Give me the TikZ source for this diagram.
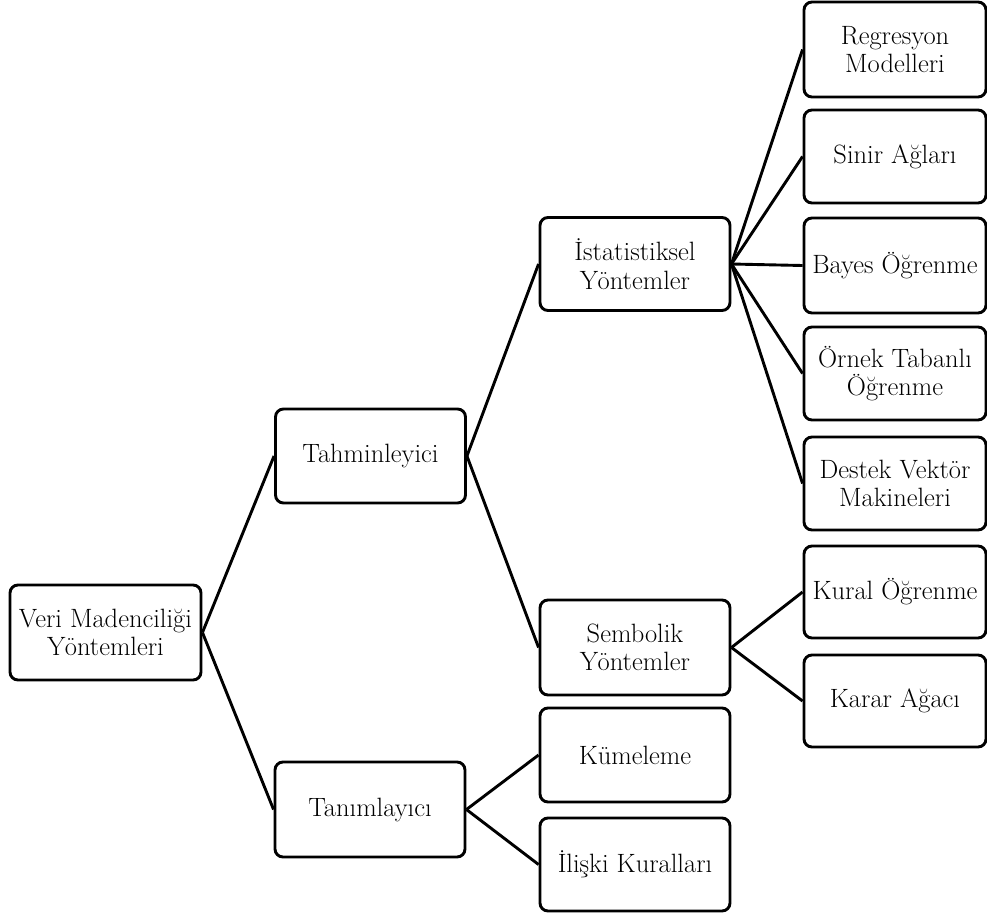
\documentclass[tikz,border=0pt]{standalone}
\usepackage{fontspec}
\begin{document}
\begin{tikzpicture}[x=1pt,y=-1pt,
  box/.style={draw=black,line width=2.9pt,rounded corners=8pt,align=center,
    inner sep=0pt,font=\fontsize{26.5}{28.5}\selectfont},
  mid/.style={box,minimum width=190pt,minimum height=93pt},
  leaf/.style={box,minimum width=182pt,minimum height=93pt},
  link/.style={draw=black,line width=2.9pt}]
\useasboundingbox (0,0) rectangle (987,916);
\begin{scope}
\clip (0,0) rectangle (987,916);
% root and first level
\node[box,minimum width=191pt,minimum height=95pt] (veri) at (105.5,632.5) {Veri Madenciliği\\Yöntemleri};
\node[mid,minimum height=94pt] (tahmin) at (370.5,456) {Tahminleyici};
\node[mid,minimum height=95pt] (tanim) at (370,809.5) {Tanımlayıcı};
% second level
\node[mid] (istat) at (635,264) {İstatistiksel\\Yöntemler};
\node[mid,minimum height=95pt] (sembol) at (635,647.5) {Sembolik\\Yöntemler};
\node[mid,minimum height=94pt] (kume) at (635,755) {Kümeleme};
\node[mid] (iliski) at (635,864.5) {İlişki Kuralları};
% leaves
\node[leaf,minimum height=95pt] (regr) at (895,49.5) {Regresyon\\Modelleri};
\node[leaf] (sinir) at (895,156.5) {Sinir Ağları};
\node[leaf,minimum height=95pt] (bayes) at (895,265.5) {Bayes Öğrenme};
\node[leaf] (ornek) at (895,373.5) {Örnek Tabanlı\\Öğrenme};
\node[leaf] (destek) at (895,483.5) {Destek Vektör\\Makineleri};
\node[leaf,minimum height=92pt] (kural) at (895,592) {Kural Öğrenme};
\node[leaf,minimum height=92pt] (karar) at (895,701) {Karar Ağacı};
% connectors
\foreach \a/\b in {veri/tahmin,veri/tanim,tahmin/istat,tahmin/sembol,
  tanim/kume,tanim/iliski,istat/regr,istat/sinir,istat/bayes,istat/ornek,
  istat/destek,sembol/kural,sembol/karar}
  \draw[link] (\a.east) -- (\b.west);
\end{scope}
\end{tikzpicture}
\end{document}
